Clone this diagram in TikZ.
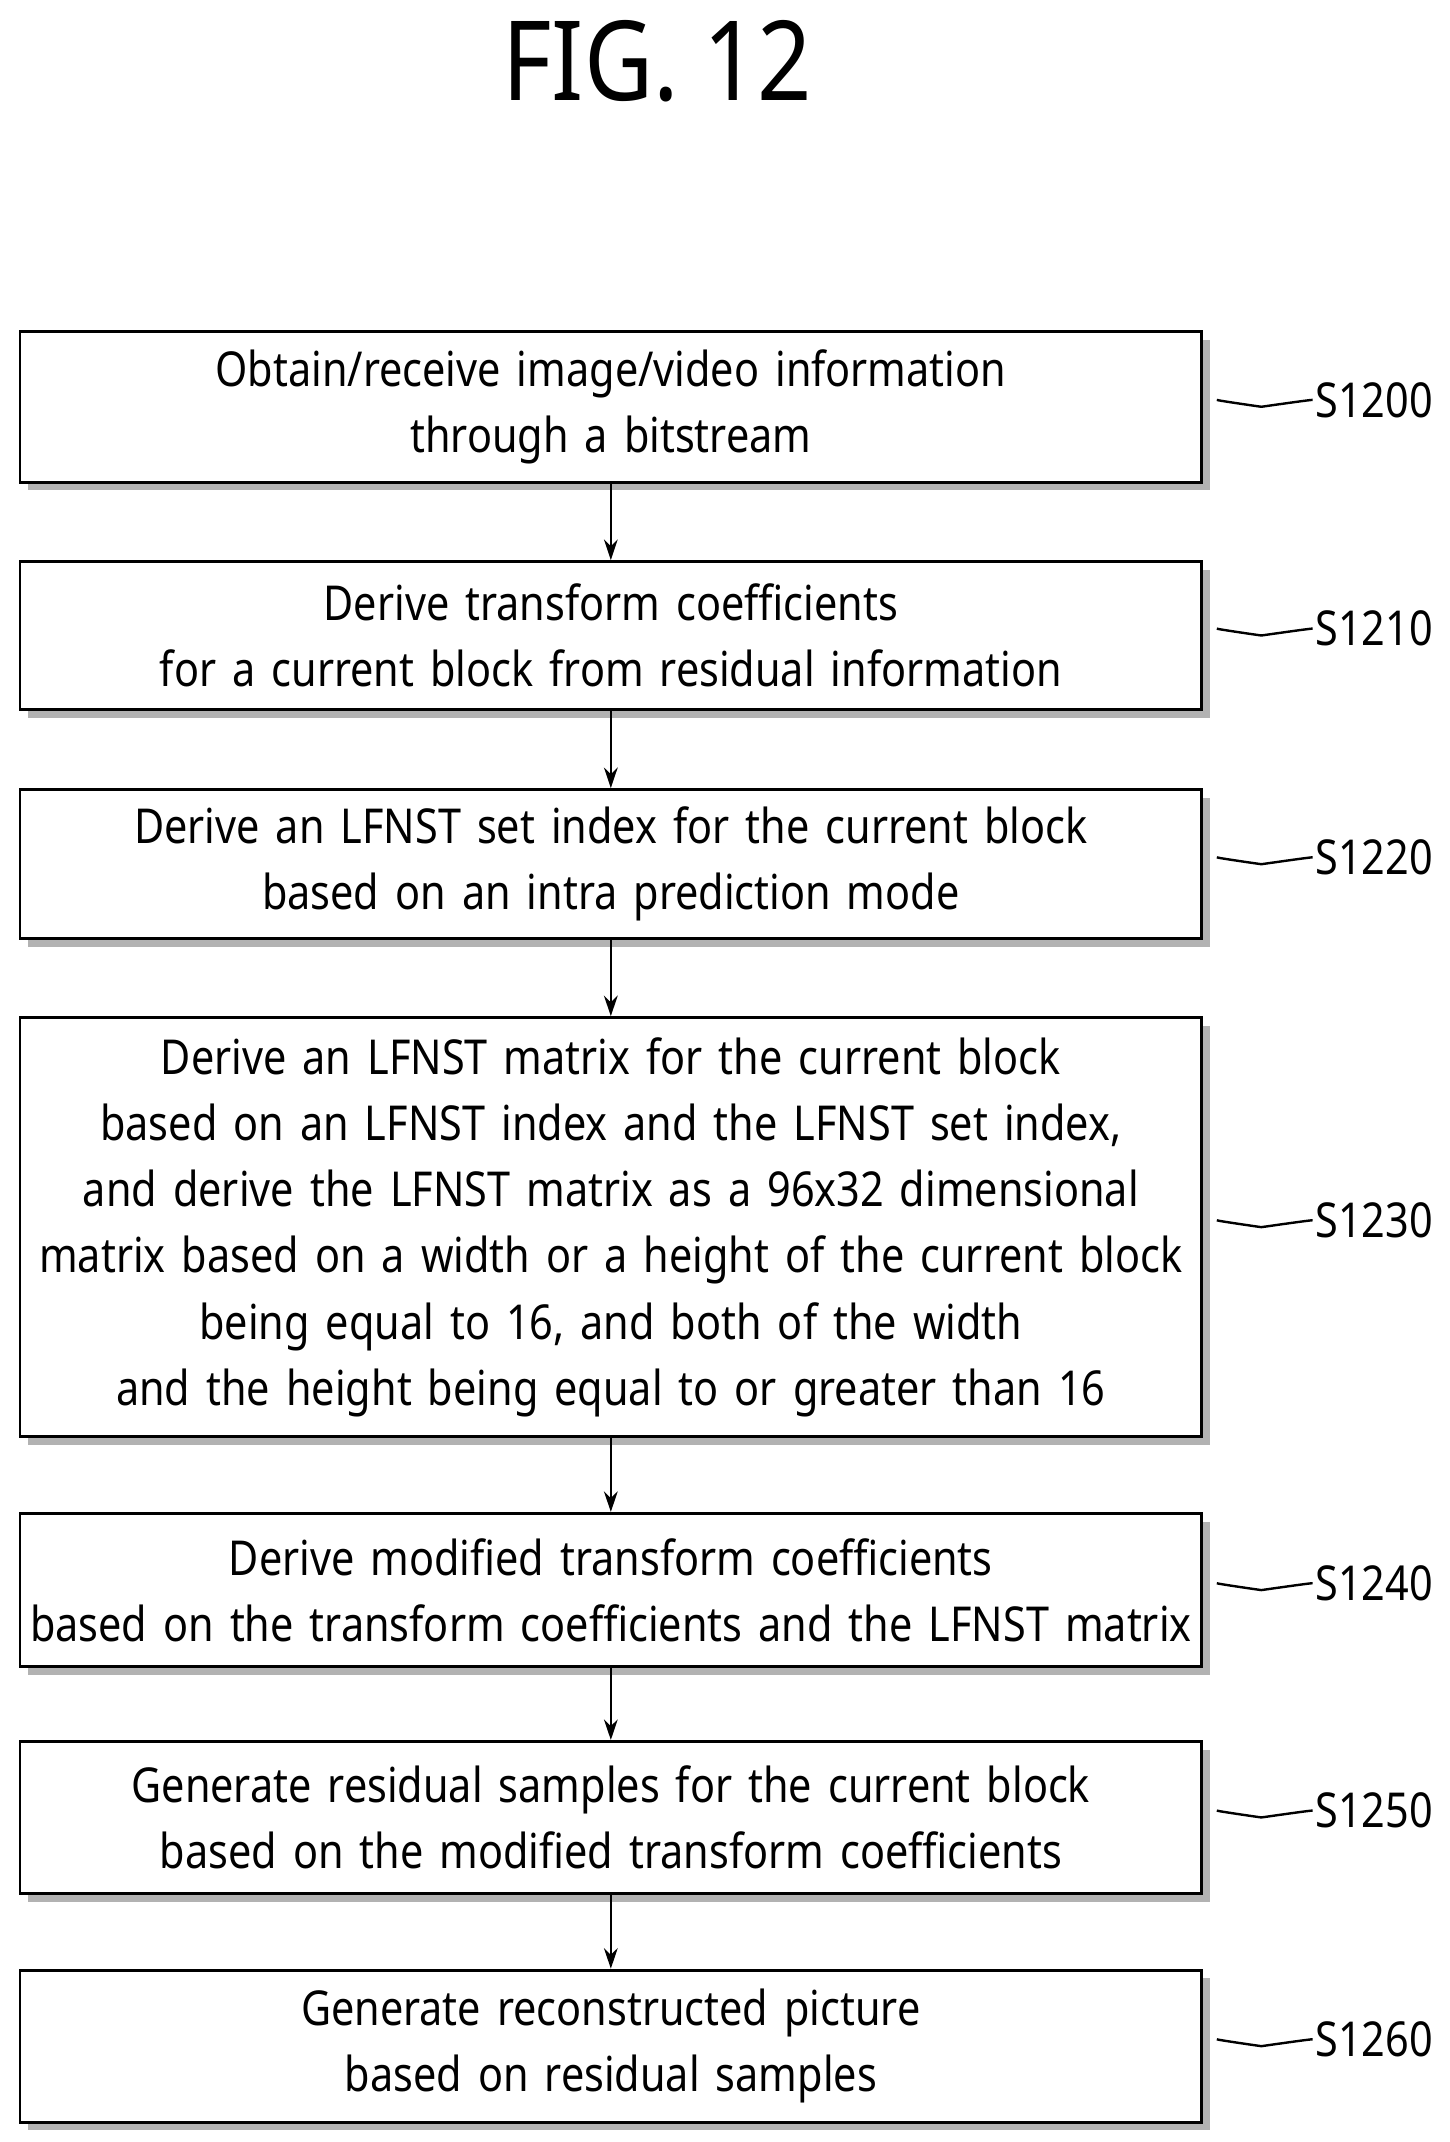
\documentclass[tikz,border=0pt]{standalone}
\usepackage{fontspec}
\setmainfont[FakeStretch=0.86]{Noto Sans}
\usetikzlibrary{arrows.meta,shadows}
\tikzset{
  stepbox/.style={draw, line width=1.2pt, fill=white, align=center, minimum width=17.26cm,
    text width=17cm, font=\fontsize{20}{27.5}\selectfont, inner sep=0pt,
    drop shadow={shadow xshift=1.2mm, shadow yshift=-1.2mm, fill=black!60}},
  flow/.style={-{Stealth[length=3mm,width=2mm]}, line width=1pt},
  tag/.style={font=\fontsize{20}{24}\selectfont, anchor=west, inner sep=1pt}
}
\begin{document}
\begin{tikzpicture}[x=0.02cm,y=-0.02cm]
  \useasboundingbox (0,0) rectangle (1058,1564);

  % Title
  \node[font=\fontsize{46}{50}\selectfont] (title) at (480,45) {FIG. 12};

  % Steps
  \node[stepbox, minimum height=2.2cm] (s1200) at (446,297)
    {Obtain/receive image/video information\\through a bitstream};
  \node[stepbox, minimum height=2.16cm] (s1210) at (446,464)
    {Derive transform coefficients\\for a current block from residual information};
  \node[stepbox, minimum height=2.18cm] (s1220) at (446,631)
    {Derive an LFNST set index for the current block\\based on an intra prediction mode};
  \node[stepbox, minimum height=6.12cm] (s1230) at (446,896)
    {Derive an LFNST matrix for the current block\\based on an LFNST index and the LFNST set index,\\and derive the LFNST matrix as a 96x32 dimensional\\matrix based on a width or a height of the current block\\being equal to 16, and both of the width\\and the height being equal to or greater than 16};
  \node[stepbox, minimum height=2.24cm] (s1240) at (446,1161)
    {Derive modified transform coefficients\\based on the transform coefficients and the LFNST matrix};
  \node[stepbox, minimum height=2.22cm] (s1250) at (446,1327)
    {Generate residual samples for the current block\\based on the modified transform coefficients};
  \node[stepbox, minimum height=2.22cm] (s1260) at (446,1494)
    {Generate reconstructed picture\\based on residual samples};

  % Connectors
  \foreach \a/\b in {s1200/s1210, s1210/s1220, s1220/s1230, s1230/s1240, s1240/s1250, s1250/s1260}
    \draw[flow] (\a.south) -- (\b.north);

  % Step labels
  \foreach \n/\t in {s1200/S1200, s1210/S1210, s1220/S1220, s1230/S1230, s1240/S1240, s1250/S1250, s1260/S1260} {
    \coordinate (\n-a) at ([xshift=0.2cm, yshift=0.1cm]\n.east);
    \node[tag] (\n-t) at ([xshift=1.6cm, yshift=0.1cm]\n.east) {\t};
    \draw[line width=1pt] (\n-a) .. controls +(0.3,0.4) and +(-0.35,0) .. ([xshift=0.85cm]\n.east)
      .. controls +(0.35,0) and +(-0.3,-0.35) .. (\n-t.west);
  }
\end{tikzpicture}
\end{document}
